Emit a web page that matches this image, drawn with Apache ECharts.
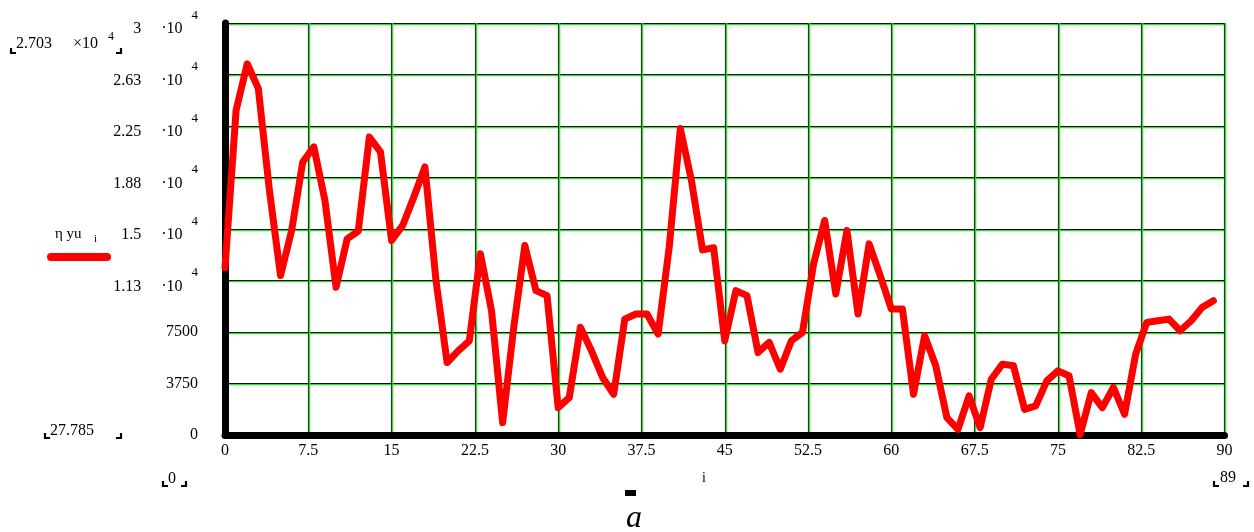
<!DOCTYPE html>
<html>
<head>
<meta charset="utf-8">
<script src="https://cdn.jsdelivr.net/npm/echarts@6/dist/echarts.min.js"></script>
<style>html,body{margin:0;padding:0;background:#fff;}#c{width:1254px;height:532px;}</style>
</head>
<body>
<div id="c"></div>
<script>
// ---- data ----
const yuValues = [
  12200, 23650, 27030, 25240, 17810, 11610, 14890, 19880, 20980, 17080,
  10760, 14280, 14840, 21700, 20610, 14160, 15260, 17320, 19520, 11240,
  5280, 6130, 6860, 13190, 9050, 900, 7840, 13800, 10510, 10150,
  1990, 2720, 7840, 6130, 4190, 2970, 8440, 8810, 8810, 7350,
  13680, 22310, 18540, 13480, 13630, 6860, 10510, 10150, 6010, 6740,
  4790, 6860, 7470, 12460, 15620, 10270, 14890, 8810, 13920, 11610,
  9170, 9170, 2970, 7230, 5040, 1270, 410, 2850, 540, 4060,
  5160, 5040, 1870, 2120, 3940, 4670, 4310, 27.785, 3090, 1990,
  3460, 1510, 5890, 8200, 8320, 8440, 7590, 8320, 9300, 9780
];
const xTickLabels = ["0","7.5","15","22.5","30","37.5","45","52.5","60","67.5","75","82.5","90"];
const yTickMantissa = ["0","3750","7500","1.13","1.5","1.88","2.25","2.63","3"];
const yTickPower = ["","","","4","4","4","4","4","4"];
const seriesName = "η yu";
const maxLabel = "2.703";
const minLabel = "27.785";
const xMinLabel = "0";
const xMaxLabel = "89";

// ---- chart ----
const FONT = "'Liberation Serif', 'DejaVu Serif', serif";
const chart = echarts.init(document.getElementById('c'), null, {renderer: 'canvas'});
const seriesData = yuValues.map((v, i) => [i, v]);

function bracketL(x, y) {
  return {type: 'polyline', shape: {points: [[x, y - 5], [x, y], [x + 5, y]]},
          style: {stroke: '#000', lineWidth: 2.2, fill: null}, silent: true};
}
function bracketR(x, y) {
  return {type: 'polyline', shape: {points: [[x - 5, y], [x, y], [x, y - 5]]},
          style: {stroke: '#000', lineWidth: 2.2, fill: null}, silent: true};
}
function txt(x, y, text, size, fontStyle) {
  return {type: 'text', x: x, y: y, silent: true,
    style: {text: text, font: (fontStyle ? fontStyle + ' ' : '') + size + 'px ' + FONT, fill: '#000',
      textVerticalAlign: 'middle', textAlign: 'left'}};
}

const gridH = {color: '#101010', width: 1.2, shadowColor: '#2ee02e', shadowBlur: 0, shadowOffsetY: 1.2};
const gridV = {color: '#1f3f1f', width: 1.2, shadowColor: '#2ee02e', shadowBlur: 0, shadowOffsetX: 1.2};

const option = {
  backgroundColor: '#fff',
  animation: false,
  grid: {left: 225, right: 29.5, top: 23, bottom: 97, containLabel: false},
  xAxis: [{
    type: 'value', min: 0, max: 90, interval: 7.5,
    axisLine: {show: true, onZero: false, lineStyle: {color: '#000', width: 7, cap: 'round'}},
    axisTick: {show: false},
    splitLine: {show: true, lineStyle: gridV},
    axisLabel: {color: '#000', fontFamily: FONT, fontSize: 16, margin: 8,
      formatter: v => xTickLabels[Math.round(v / 7.5)] || ''}
  }, {
    type: 'value', min: 0, max: 90, position: 'top',
    axisLine: {show: true, lineStyle: {color: '#000', width: 3.5}},
    axisTick: {show: false}, axisLabel: {show: false}, splitLine: {show: false}
  }],
  yAxis: [{
    type: 'value', min: 0, max: 30000, interval: 3750,
    axisLine: {show: true, onZero: false, lineStyle: {color: '#000', width: 7, cap: 'round'}},
    axisTick: {show: false},
    splitLine: {show: true, lineStyle: gridH},
    axisLabel: {
      color: '#000', fontFamily: FONT, fontSize: 16, margin: 27,
      formatter: v => {
        const k = Math.round(v / 3750);
        const m = yTickMantissa[k] || '';
        const p = yTickPower[k] || '';
        if (!p) return '{n|' + m + '}';
        return '{m|' + m + '}{d|     ·10}{p|' + p + '}';
      },
      rich: {
        n: {fontFamily: FONT, fontSize: 16, color: '#000'},
        m: {fontFamily: FONT, fontSize: 16, color: '#000', lineHeight: 28, verticalAlign: 'bottom'},
        d: {fontFamily: FONT, fontSize: 16, color: '#000', lineHeight: 28, verticalAlign: 'bottom'},
        p: {fontFamily: FONT, fontSize: 13, color: '#000', lineHeight: 24, verticalAlign: 'top', padding: [0, 0, 0, 9]}
      }
    }
  }, {
    type: 'value', min: 0, max: 30000, position: 'right',
    axisLine: {show: true, lineStyle: {color: '#000', width: 3.5}},
    axisTick: {show: false}, axisLabel: {show: false}, splitLine: {show: false}
  }],
  series: [{
    name: seriesName, type: 'line', data: seriesData, showSymbol: false, symbol: 'none',
    xAxisIndex: 0, yAxisIndex: 0,
    lineStyle: {color: '#ff0000', width: 7, cap: 'round', join: 'round'},
    z: 5
  }],
  graphic: [
    // max label
    bracketL(11, 53), bracketR(121, 53),
    txt(16, 44, maxLabel, 16),
    txt(73, 44, '×10', 16),
    txt(108, 37, '4', 12),
    // min label
    bracketL(45, 438), bracketR(121, 438),
    txt(50, 431, minLabel, 16),
    // x range labels
    bracketL(163, 486), bracketR(186, 486),
    txt(168, 479, xMinLabel, 16),
    bracketL(1214, 486), bracketR(1248, 486),
    txt(1220, 478, xMaxLabel, 16),
    // x axis name
    txt(702, 478, 'i', 14),
    // legend
    txt(55, 234, seriesName, 15),
    txt(94, 239, 'i', 11),
    {type: 'line', shape: {x1: 51, y1: 257, x2: 107, y2: 257}, silent: true,
     style: {stroke: '#ff0000', lineWidth: 8, lineCap: 'round'}},
    // caption
    {type: 'rect', shape: {x: 625, y: 490, width: 11, height: 6}, style: {fill: '#000'}, silent: true},
    txt(626, 519, 'a', 32, 'italic')
  ]
};
chart.setOption(option);
</script>
</body>
</html>
